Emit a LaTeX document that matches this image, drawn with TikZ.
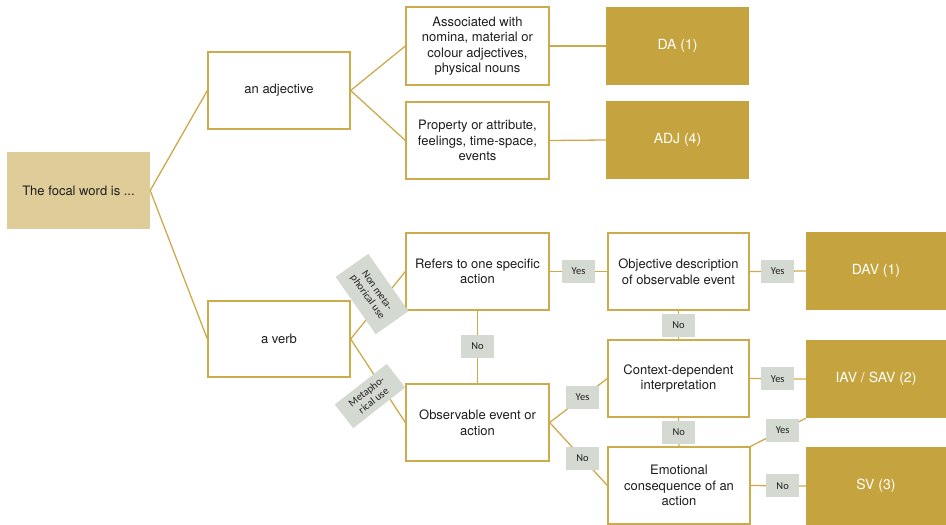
\documentclass[tikz,border=0pt]{standalone}
\usepackage{fontspec}
\setmainfont{TeX Gyre Heros}
\newfontfamily\labfont{Carlito}
\definecolor{gold}{RGB}{197,164,63}
\definecolor{goldline}{RGB}{205,170,76}
\definecolor{tanfill}{RGB}{223,205,153}
\definecolor{labfill}{RGB}{212,217,209}
\definecolor{txt}{RGB}{30,30,30}
\tikzset{
 wbox/.style={draw=goldline, line width=1.3pt, fill=white, minimum width=142pt, minimum height=77pt, align=center, font=\fontsize{13}{15.5}\selectfont, text=txt, inner sep=2pt},
 gbox/.style={fill=gold, minimum width=143pt, minimum height=78pt, font=\fontsize{14}{16}\selectfont, text=white, inner sep=0pt},
 lbl/.style={fill=labfill, font=\labfont\fontsize{10.5}{11}\selectfont, minimum width=33pt, minimum height=23pt, inner sep=1pt, text=txt},
 rlbl/.style={fill=labfill, font=\labfont\fontsize{10.5}{11.5}\selectfont, align=center, inner sep=1pt, text=txt},
 conn/.style={draw=goldline, line width=1.3pt},
}
\begin{document}
\begin{tikzpicture}[x=1pt,y=-1pt]
\useasboundingbox (0,0) rectangle (946,525);
% nodes
\node[fill=tanfill, minimum width=143pt, minimum height=77pt, font=\fontsize{13}{15.5}\selectfont, text=txt] (focal) at (78.5,190.5) {The focal word is ...};
\node[wbox] (adj) at (279,90.5) {an adjective};
\node[wbox, minimum height=76pt] (verb) at (279,339) {a verb};
\node[wbox, minimum width=143pt, minimum height=78pt] (assoc) at (477.5,46) {Associated with\\nomina, material or\\colour adjectives,\\physical nouns};
\node[wbox, minimum width=143pt] (prop) at (477.5,140.5) {Property or attribute,\\feelings, time-space,\\events};
\node[gbox] (da) at (677.5,46) {DA (1)};
\node[gbox] (adjr) at (677.5,140) {ADJ (4)};
\node[wbox, minimum width=143pt] (refers) at (477.5,271.5) {Refers to one specific\\action};
\node[wbox, minimum width=143pt] (obs) at (477.5,422.5) {Observable event or\\action};
\node[wbox, minimum width=141pt] (objd) at (678.5,271.5) {Objective description\\of observable event};
\node[wbox, minimum width=141pt] (ctx) at (678.5,378.5) {Context-dependent\\interpretation};
\node[wbox] (emo) at (679,485.5) {Emotional\\consequence of an\\action};
\node[gbox, minimum width=140pt] (dav) at (876,271) {DAV (1)};
\node[gbox, minimum width=140pt] (iav) at (876,379) {IAV / SAV (2)};
\node[gbox, minimum width=140pt] (sv) at (876,486) {SV (3)};
% connectors
\draw[conn] (focal.east) -- (adj.west);
\draw[conn] (focal.east) -- (verb.west);
\draw[conn] (adj.east) -- (assoc.west);
\draw[conn] (adj.east) -- (prop.west);
\draw[conn] (assoc.east) -- (da.west);
\draw[conn] (prop.east) -- (adjr.west);
\draw[conn] (verb.east) -- (refers.west);
\draw[conn] (verb.east) -- (obs.west);
\draw[conn] (refers.east) -- node[lbl] (l1) {Yes} (objd.west);
\draw[conn] (objd.east) -- node[lbl] (l2) {Yes} (dav.west);
\draw[conn] (objd.south) -- node[lbl] (l3) {No} (ctx.north);
\draw[conn] (refers.south) -- node[lbl, pos=0.49] (l4) {No} (obs.north);
\draw[conn] (obs.east) -- node[lbl, pos=0.57] (l5) {Yes} (ctx.west);
\draw[conn] (obs.east) -- node[lbl, pos=0.57] (l6) {No} (emo.west);
\draw[conn] (ctx.east) -- node[lbl] (l7) {Yes} (iav.west);
\draw[conn] (ctx.south) -- node[lbl] (l8) {No} (emo.north);
\draw[conn] (emo.north east) -- node[lbl, pos=0.58] (l9) {Yes} (iav.south west);
\draw[conn] (emo.east) -- node[lbl, pos=0.58] (l10) {No} (sv.west);
% rotated labels
\node[rlbl, rotate=-55, minimum width=70pt, minimum height=40pt] (nm) at (372,294) {Non meta-\\phorical use};
\node[rlbl, rotate=38, minimum width=66pt, minimum height=30pt] (mu) at (370,396) {Metapho-\\rical use};
\end{tikzpicture}
\end{document}
